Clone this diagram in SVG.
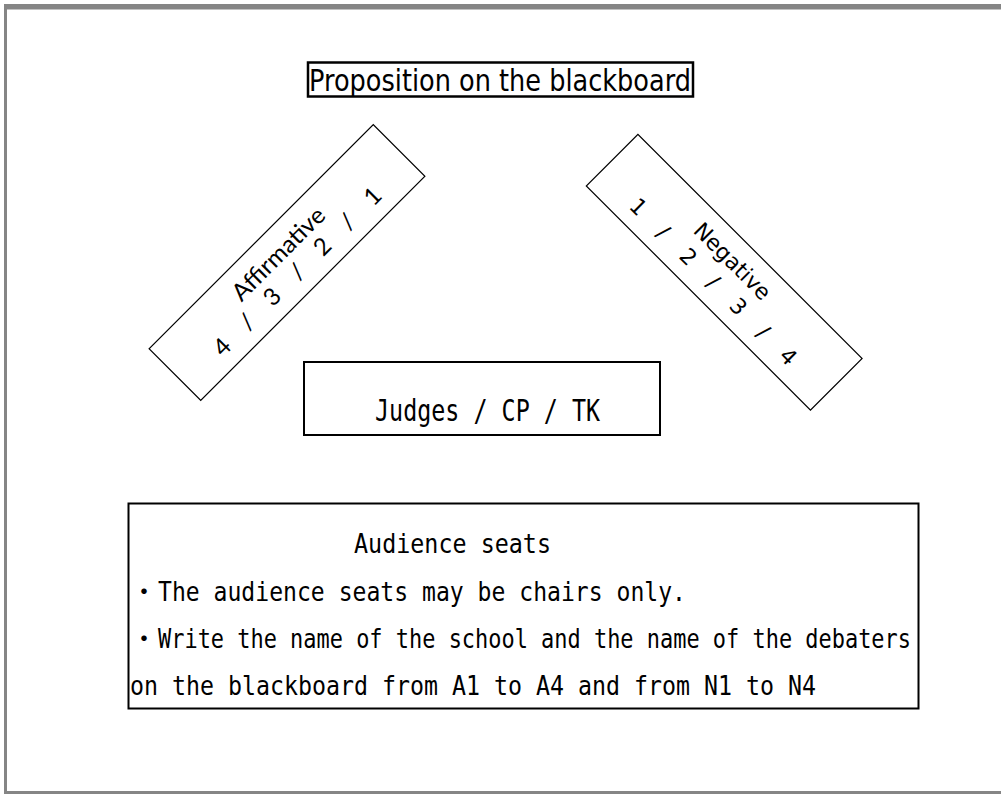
<svg xmlns="http://www.w3.org/2000/svg" width="1001" height="794" viewBox="0 0 1001 794">
<style>
.box{fill:#fff;stroke:#000;stroke-width:2}
.thin{fill:#fff;stroke:#000;stroke-width:1.2}
.goth{font-family:"DejaVu Sans Mono","Liberation Mono",monospace;fill:#000}
.cjk{font-family:"Noto Sans CJK JP",sans-serif;fill:#000}
.tah{font-family:"DejaVu Sans","Liberation Sans",sans-serif;fill:#000}
.cal{font-family:"Lato","Open Sans",sans-serif;fill:#000}
</style>
<rect x="0" y="0" width="1001" height="794" fill="#fff"/>
<g id="frame" fill="#858585">
<rect x="4" y="4" width="997" height="5.5"/>
<rect x="4" y="4" width="3" height="790"/>
<rect x="4" y="791" width="997" height="3"/>
</g>
<g id="title">
<rect x="308" y="62.5" width="385" height="34" fill="#fff" stroke="#000" stroke-width="2.5"/>
<text class="tah" x="309" y="90.5" font-size="30" textLength="382" lengthAdjust="spacingAndGlyphs">Proposition on the blackboard</text>
</g>
<g id="affirmative" transform="translate(287,262.5) rotate(-45)">
<rect class="thin" x="-158.5" y="-36.5" width="317" height="73"/>
<text class="cal" x="0" y="-4" font-size="24" text-anchor="middle" textLength="121" lengthAdjust="spacingAndGlyphs">Affirmative</text>
<text class="cal" font-size="24" y="22" text-anchor="middle" x="-105.7 -88 -70.2 -52.5 -34.7 -17 0.8 18.5 36.3 54 71.8 89.5 107.3">4 / 3 / 2 / 1</text>
</g>
<g id="negative" transform="translate(724.2,272.2) rotate(45)">
<rect class="thin" x="-158.5" y="-36.5" width="317" height="73"/>
<text class="tah" x="-2" y="-6" font-size="22" text-anchor="middle">Negative</text>
<text class="tah" font-size="22" y="22" text-anchor="middle" x="-107 -89.3 -71.7 -54 -36.3 -18.7 -1 16.7 34.3 52 69.7 87.3 105">1 / 2 / 3 / 4</text>
</g>
<g id="judges">
<rect class="box" x="304" y="362" width="356" height="73"/>
<text class="goth" x="375" y="421" font-size="30" textLength="225" lengthAdjust="spacingAndGlyphs">Judges / CP / TK</text>
</g>
<g id="audience">
<rect class="box" x="128.5" y="503.5" width="790" height="205"/>
<text class="goth" x="354" y="553" font-size="27" textLength="197" lengthAdjust="spacingAndGlyphs">Audience seats</text>
<text class="cjk" x="144" y="601" font-size="26" text-anchor="middle">・</text>
<text class="goth" x="158" y="601" font-size="27" textLength="528" lengthAdjust="spacingAndGlyphs">The audience seats may be chairs only.</text>
<text class="cjk" x="144" y="648" font-size="26" text-anchor="middle">・</text>
<text class="goth" x="158" y="648" font-size="27" textLength="753" lengthAdjust="spacingAndGlyphs">Write the name of the school and the name of the debaters</text>
<text class="goth" x="130" y="695" font-size="27" textLength="686" lengthAdjust="spacingAndGlyphs">on the blackboard from A1 to A4 and from N1 to N4</text>
</g>
<g id="connectors"></g>
</svg>
